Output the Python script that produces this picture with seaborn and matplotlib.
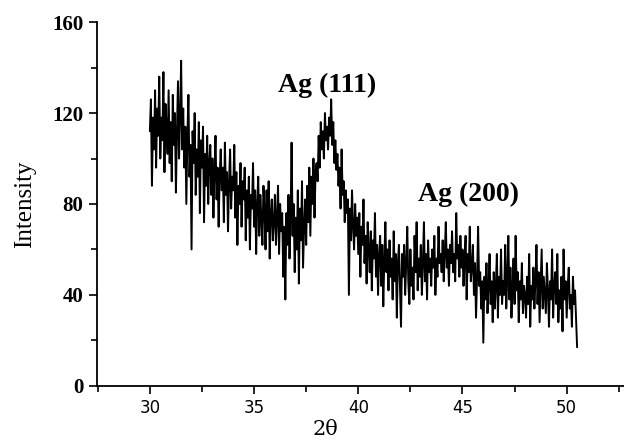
import numpy as np
import pandas as pd
import matplotlib
matplotlib.use("Agg")
import matplotlib.pyplot as plt
import seaborn as sns
from matplotlib.ticker import MultipleLocator

# 2theta from 30.00 to 50.50 in 0.05 steps
two_theta_start = 30.0
two_theta_step = 0.05
intensity = [
    112, 126, 88, 118, 104, 130, 96, 122, 110, 136,
    100, 118, 108, 138, 94, 124, 114, 102, 130, 98,
    116, 90, 128, 106, 120, 85, 112, 134, 100, 118,
    143, 104, 122, 96, 114, 80, 110, 128, 92, 106,
    60, 112, 98, 120, 84, 104, 92, 116, 76, 108,
    96, 114, 72, 102, 88, 110, 80, 98, 106, 84,
    100, 74, 94, 110, 82, 96, 70, 92, 104, 86,
    96, 72, 107, 84, 94, 68, 90, 104, 78, 92,
    86, 106, 74, 94, 62, 88, 80, 98, 70, 90,
    82, 96, 64, 86, 74, 92, 60, 84, 78, 98,
    70, 86, 58, 80, 92, 66, 84, 74, 62, 88,
    78, 60, 86, 68, 90, 56, 76, 82, 64, 72,
    84, 62, 74, 88, 58, 80, 68, 76, 48, 70,
    38, 76, 62, 84, 56, 72, 107, 66, 80, 50,
    74, 60, 86, 45, 78, 64, 90, 52, 70, 82,
    62, 88, 72, 96, 66, 92, 80, 100, 74, 94,
    98, 90, 110, 96, 116, 104, 112, 100, 120, 108,
    114, 104, 118, 110, 126, 106, 116, 98, 108, 95,
    102, 88, 96, 78, 104, 84, 90, 72, 86, 76,
    82, 40, 78, 64, 86, 70, 60, 80, 66, 74,
    58, 76, 48, 70, 62, 82, 54, 66, 45, 72,
    60, 50, 68, 42, 64, 56, 76, 48, 62, 40,
    58, 66, 44, 62, 35, 56, 72, 50, 60, 42,
    64, 48, 56, 38, 68, 46, 58, 30, 54, 62,
    44, 26, 58, 48, 62, 40, 54, 70, 46, 36,
    60, 44, 52, 38, 66, 50, 72, 42, 56, 48,
    62, 40, 54, 72, 46, 58, 38, 64, 50, 56,
    44, 60, 52, 66, 40, 56, 48, 70, 54, 58,
    50, 64, 46, 58, 72, 52, 60, 44, 62, 54,
    68, 50, 58, 46, 76, 56, 62, 48, 66, 52,
    60, 44, 56, 66, 38, 58, 50, 70, 46, 52,
    62, 40, 54, 30, 48, 70, 44, 50, 34, 46,
    19, 48, 38, 54, 32, 44, 58, 36, 46, 28,
    50, 34, 44, 58, 30, 48, 40, 60, 36, 46,
    40, 62, 34, 48, 66, 38, 52, 30, 44, 56,
    36, 66, 42, 50, 28, 46, 38, 54, 32, 44,
    40, 30, 48, 36, 58, 26, 44, 38, 52, 34,
    46, 62, 36, 50, 28, 44, 60, 34, 48, 40,
    32, 54, 42, 26, 46, 38, 60, 30, 44, 50,
    36, 58, 28, 42, 34, 48, 24, 60, 38, 46,
    30, 44, 52, 34, 40, 26, 48, 36, 42, 30,
    17,
]
two_theta = [round(two_theta_start + i * two_theta_step, 3) for i in range(len(intensity))]

x_ticks = [30, 35, 40, 45, 50]
y_ticks = [0, 40, 80, 120, 160]
peak_labels = ["Ag (111)", "Ag (200)"]
peak_pos = [(38.5, 132), (45.3, 84)]

sns.set_style("ticks")
plt.rcParams["text.color"] = "black"
plt.rcParams["axes.labelcolor"] = "black"
plt.rcParams["xtick.color"] = "black"
plt.rcParams["ytick.color"] = "black"
df = pd.DataFrame({"2θ": two_theta, "Intensity": intensity})

fig = plt.figure(figsize=(6.24, 4.42), dpi=100)
ax = fig.add_axes([0.155, 0.127, 0.845, 0.823])
sns.lineplot(data=df, x="2θ", y="Intensity", ax=ax, color="black", linewidth=1.4)

ax.set_xlim(27.45, 52.75)
ax.set_ylim(0, 160)
ax.set_xticks(x_ticks)
ax.set_yticks(y_ticks)
ax.xaxis.set_minor_locator(MultipleLocator(2.5))
ax.yaxis.set_minor_locator(MultipleLocator(20))
sns.despine(ax=ax)
for s in ["left", "bottom"]:
    ax.spines[s].set_linewidth(1.3)
    ax.spines[s].set_color("black")
ax.tick_params(which="major", direction="out", length=6, width=1.2,
               colors="black", labelcolor="black")
ax.tick_params(which="minor", direction="out", length=4, width=1.2, colors="black")

for lab in ax.get_xticklabels():
    lab.set_fontfamily("DejaVu Sans")
    lab.set_fontsize(12)
    lab.set_color("black")
for lab in ax.get_yticklabels():
    lab.set_fontfamily("Liberation Serif")
    lab.set_fontsize(15)
    lab.set_fontweight("bold")
    lab.set_color("black")

ax.set_xlabel("2θ", fontsize=15, fontfamily="DejaVu Serif", labelpad=1, color="black")
ax.xaxis.set_label_coords(0.433, -0.095, transform=ax.transAxes)
ax.xaxis.label.set_verticalalignment("top")
ax.set_ylabel("Intensity", fontsize=18, fontfamily="Liberation Serif", labelpad=12,
              color="black")

for lab, (px, py) in zip(peak_labels, peak_pos):
    ax.text(px, py, lab, ha="center", va="center", fontsize=20,
            fontfamily="Liberation Serif", fontweight="bold", color="black")

fig.savefig("out.png", dpi=100)
